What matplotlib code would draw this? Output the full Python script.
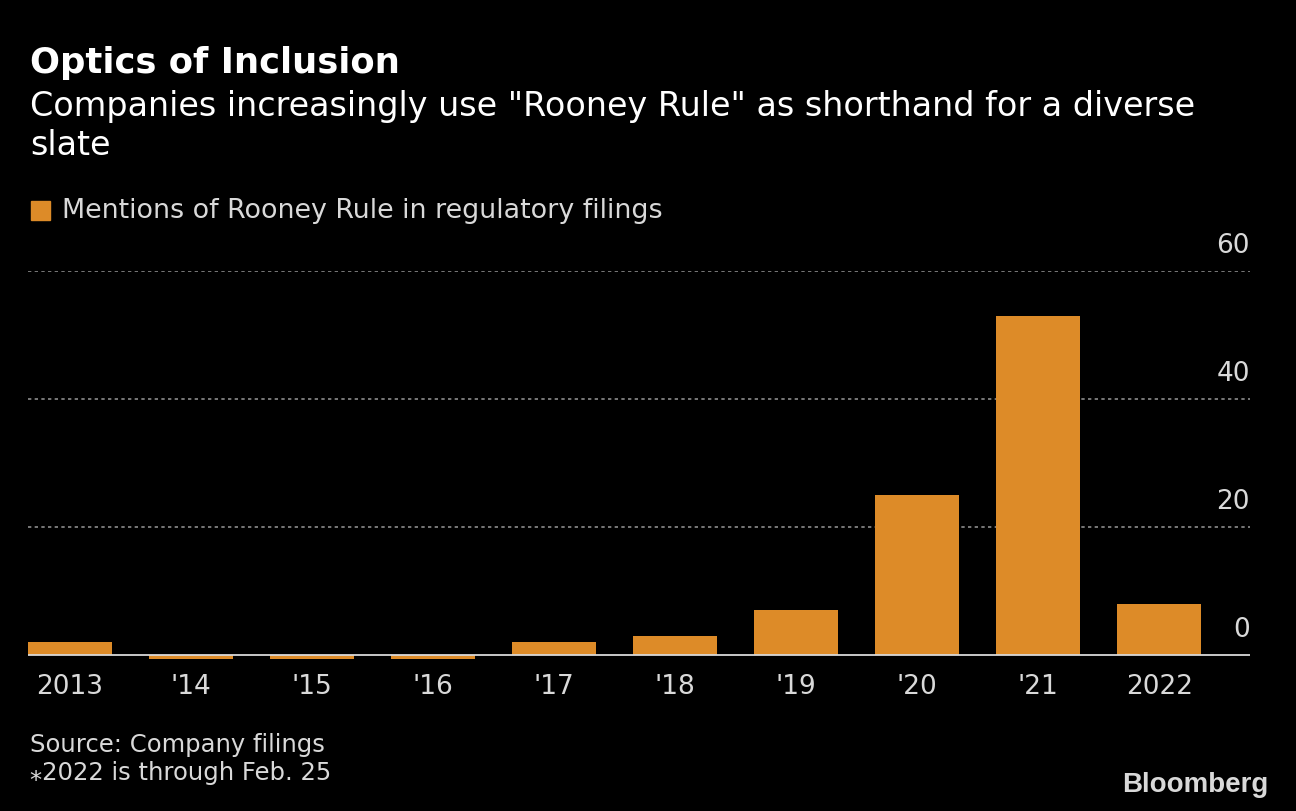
import matplotlib
matplotlib.use("Agg")
import matplotlib.pyplot as plt
import numpy as np
from matplotlib import font_manager

years = ["2013", "'14", "'15", "'16", "'17", "'18", "'19", "'20", "'21", "2022"]
mentions = [2, 0, 0, 0, 2, 3, 7, 25, 53, 8]
yticks = [0, 20, 40, 60]

BG = "black"
BAR = "#dd8b28"
TXT = "#d9d9d9"

names = {f.name for f in font_manager.fontManager.ttflist}
FONT = "Liberation Sans Narrow" if "Liberation Sans Narrow" in names else "DejaVu Sans"
plt.rcParams["font.family"] = [FONT, "DejaVu Sans"]

fig = plt.figure(figsize=(12.96, 8.12), dpi=100, facecolor=BG)
ax = fig.add_axes([28 / 1296, 1 - 662.4 / 812, (1250 - 28) / 1296, (662.4 - 272) / 812])
ax.set_facecolor(BG)

x = np.arange(len(years))
vals = np.array(mentions, dtype=float)
# zero years shown as a thin stub under the baseline
heights = np.where(vals == 0, -0.55, vals)
ax.bar(x, heights, width=0.69, color=BAR, zorder=2)

ax.set_xlim(-0.345, 9.75)
ax.set_ylim(-1, 60)
for t in yticks[1:]:
    ax.axhline(t, color="#8c8c8c", linestyle=(0, (2, 2)), linewidth=1.2, zorder=1)
ax.axhline(0, color="#d9d9d9", linewidth=1.3, zorder=3)
for t in yticks:
    ax.text(1.0, t + 2.0, str(t), transform=ax.get_yaxis_transform(), ha="right",
            va="bottom", color=TXT, fontsize=19)

ax.set_yticks([])
ax.set_xticks(x)
ax.set_xticklabels(years, color=TXT, fontsize=19)
ax.tick_params(axis="x", length=0, pad=8)
for s in ax.spines.values():
    s.set_visible(False)

fig.text(30 / 1296, 1 - 63 / 812, "Optics of Inclusion", color="white", fontsize=25.5,
         fontweight="bold", va="center", ha="left")
fig.text(30 / 1296, 1 - 126 / 812,
         'Companies increasingly use "Rooney Rule" as shorthand for a diverse\nslate',
         color="white", fontsize=24, va="center", ha="left", linespacing=1.2)

fig.patches.append(plt.Rectangle((31 / 1296, 1 - 221 / 812), 19 / 1296, 19 / 812,
                                 transform=fig.transFigure, color=BAR))
fig.text(62 / 1296, 1 - 211 / 812, "Mentions of Rooney Rule in regulatory filings",
         color=TXT, fontsize=19.4, va="center", ha="left")

fig.text(30 / 1296, 1 - 759 / 812, "Source: Company filings\n\u204e2022 is through Feb. 25",
         color=TXT, fontsize=17.5, va="center", ha="left", linespacing=1.25)
fig.text(1268 / 1296, 1 - 785 / 812, "Bloomberg", color="#d9d9d9", fontsize=20,
         fontweight="bold", va="center", ha="right", family="Liberation Sans")

fig.savefig("out.png", dpi=100, facecolor=BG)
